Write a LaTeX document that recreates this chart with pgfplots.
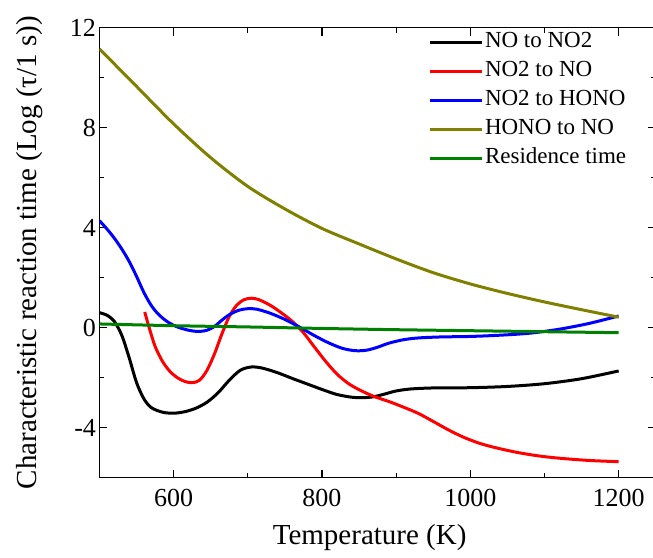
\documentclass[border=0pt]{standalone}
\usepackage{fontspec}
\setmainfont{Liberation Serif}
\usepackage{pgfplots}
\pgfplotsset{compat=1.18}
\definecolor{olivec}{RGB}{128,128,0}
\definecolor{greenc}{RGB}{0,128,0}
\begin{document}
\begin{tikzpicture}
\useasboundingbox (-99.5pt,-79.3pt) rectangle (553.5pt,477.7pt);
\begin{axis}[
  at={(0,0)}, anchor=south west,
  scale only axis, width=556.25pt, height=450pt,
  xmin=500, xmax=1250, ymin=-6, ymax=12,
  xtick={600,800,1000,1200}, ytick={-4,0,4,8,12},
  minor x tick num=1, minor y tick num=1,
  tick align=inside, major tick length=8pt, minor tick length=5pt,
  axis line style={line width=1.2pt}, every tick/.style={line width=1.2pt, black},
  /pgf/number format/assume math mode=true,
  /pgf/number format/1000 sep={},
  ticklabel style={font=\fontsize{26}{26}\selectfont},
  xticklabel style={yshift=-8pt},
  label style={font=\fontsize{29}{29}\selectfont},
  xlabel={Temperature (K)},
  ylabel={Characteristic reaction time (Log (τ/1 s))},
  xlabel style={xshift=-8pt, yshift=-11pt},
  ylabel style={yshift=20pt},
  legend style={at={(0.5906,1)}, anchor=north west, draw=none, fill=none,
    inner sep=0pt, outer sep=0pt, row sep=0pt,
    font=\fontsize{23}{23}\selectfont,
    nodes={inner sep=2pt, text height=17.5pt, text depth=7.5pt}},
  legend cell align=left,
  legend image code/.code={\draw[#1] (0pt,0pt) -- (52pt,0pt);},
  every axis plot/.append style={line width=3pt, smooth},
]
\addplot[black] coordinates {
(500,0.6) (510,0.5) (520,0.25) (530,-0.3) (540,-1.2) (550,-2.2) (560,-2.85)
(570,-3.2) (585,-3.38) (600,-3.42) (615,-3.36) (630,-3.22) (645,-2.98) (660,-2.6)
(675,-2.1) (690,-1.7) (705,-1.57) (720,-1.62) (740,-1.8) (760,-2.03) (780,-2.25)
(800,-2.47) (820,-2.67) (840,-2.78) (855,-2.8) (870,-2.76) (885,-2.65) (900,-2.53)
(920,-2.45) (950,-2.41) (1000,-2.4) (1050,-2.35) (1100,-2.24) (1150,-2.04) (1200,-1.73)};
\addlegendentry{NO to NO2}
\addplot[red] coordinates {
(561,0.63) (567,0.0) (575,-0.75) (585,-1.35) (595,-1.75) (605,-2.0) (615,-2.15)
(625,-2.2) (635,-2.1) (645,-1.7) (655,-1.05) (665,-0.25) (675,0.45) (685,0.9)
(695,1.12) (705,1.18) (715,1.12) (730,0.9) (745,0.6) (760,0.25) (775,-0.2)
(790,-0.78) (805,-1.35) (820,-1.85) (835,-2.22) (850,-2.48) (870,-2.75) (890,-2.95)
(910,-3.18) (930,-3.43) (950,-3.75) (970,-4.08) (990,-4.37) (1010,-4.6) (1030,-4.77)
(1060,-4.97) (1090,-5.12) (1120,-5.22) (1160,-5.31) (1200,-5.36)};
\addlegendentry{NO2 to NO}
\addplot[blue] coordinates {
(500,4.28) (510,3.95) (520,3.58) (530,3.15) (540,2.65) (550,2.05) (560,1.4)
(570,0.88) (580,0.52) (592,0.23) (605,0.03) (620,-0.1) (633,-0.15) (645,-0.1)
(655,0.05) (665,0.3) (675,0.52) (688,0.7) (700,0.76) (712,0.74) (730,0.58)
(750,0.33) (770,0.02) (790,-0.32) (810,-0.62) (828,-0.83) (845,-0.92) (860,-0.9)
(875,-0.78) (890,-0.62) (910,-0.48) (930,-0.41) (960,-0.37) (1000,-0.35) (1040,-0.3)
(1080,-0.22) (1120,-0.06) (1160,0.17) (1200,0.47)};
\addlegendentry{NO2 to HONO}
\addplot[olivec] coordinates {
(500,11.15) (550,9.65) (600,8.15) (650,6.8) (700,5.65) (750,4.75) (800,3.97)
(850,3.35) (900,2.75) (950,2.2) (1000,1.75) (1050,1.37) (1100,1.03) (1150,0.72) (1200,0.42)};
\addlegendentry{HONO to NO}
\addplot[greenc] coordinates {
(500,0.15) (600,0.08) (700,0.03) (800,-0.03) (900,-0.08) (1000,-0.12) (1100,-0.16) (1200,-0.2)};
\addlegendentry{Residence time}
\end{axis}
\end{tikzpicture}
\end{document}
